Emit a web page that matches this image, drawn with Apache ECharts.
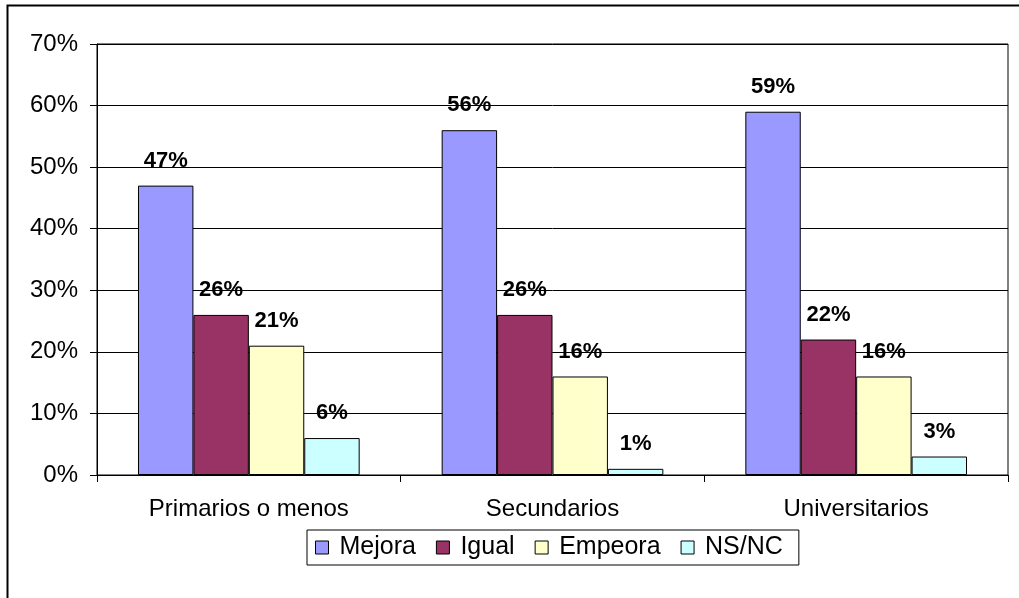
<!DOCTYPE html>
<html><head><meta charset="utf-8">
<script src="https://cdn.jsdelivr.net/npm/echarts@6/dist/echarts.min.js"></script>
<style>html,body{margin:0;padding:0;background:#fff}#c{width:1019px;height:598px}</style>
</head><body><div id="c"></div>
<script>
const categories = ['Primarios o menos', 'Secundarios', 'Universitarios'];
const seriesNames = ['Mejora', 'Igual', 'Empeora', 'NS/NC'];
const mejora = [47, 56, 59];
const igual = [26, 26, 22];
const empeora = [21, 16, 16];
const nsnc = [6, 1, 3];
const colors = ['#9999FF', '#993366', '#FFFFCC', '#CCFFFF'];
const values = [mejora, igual, empeora, nsnc];

const chart = echarts.init(document.getElementById('c'), null, {renderer: 'canvas'});
const font = 'Arial, "Liberation Sans", sans-serif';
chart.setOption({
  animation: false,
  graphic: [{
    type: 'rect', shape: {x: 7.5, y: 5.5, width: 1030, height: 620},
    style: {fill: 'none', stroke: '#000', lineWidth: 2}, silent: true, z: -1
  }],
  grid: {left: 97, right: 11, top: 44, bottom: 123, show: true, borderColor: '#000', borderWidth: 1},
  legend: {
    data: seriesNames, left: 307, top: 530,
    itemWidth: 13, itemHeight: 13, itemGap: 20,
    borderColor: '#000', borderWidth: 1, padding: [5, 16, 5, 8],
    textStyle: {fontFamily: font, fontSize: 25, color: '#000', padding: [0, 0, 0, 6]},
    icon: 'rect',
    itemStyle: {borderColor: '#000', borderWidth: 1}
  },
  xAxis: {
    type: 'category', data: categories,
    axisLine: {lineStyle: {color: '#000', width: 1}},
    axisTick: {show: true, length: 7, lineStyle: {color: '#000'}},
    axisLabel: {fontFamily: font, fontSize: 24, color: '#000', margin: 22}
  },
  yAxis: {
    type: 'value', min: 0, max: 70, interval: 10,
    axisLine: {show: true, lineStyle: {color: '#000'}},
    axisTick: {show: true, length: 7, lineStyle: {color: '#000'}},
    axisLabel: {fontFamily: font, fontSize: 24, color: '#000', margin: 19, formatter: '{value}%'},
    splitLine: {lineStyle: {color: '#000', width: 1}}
  },
  series: seriesNames.map((n, i) => ({
    name: n, type: 'bar', data: values[i],
    barGap: '0%', barCategoryGap: '27%',
    itemStyle: {color: colors[i], borderColor: '#000', borderWidth: 1},
    label: {show: true, position: 'top', distance: 14, formatter: '{c}%',
      fontFamily: font, fontSize: 22, fontWeight: 'bold', color: '#000'}
  }))
});
</script></body></html>
